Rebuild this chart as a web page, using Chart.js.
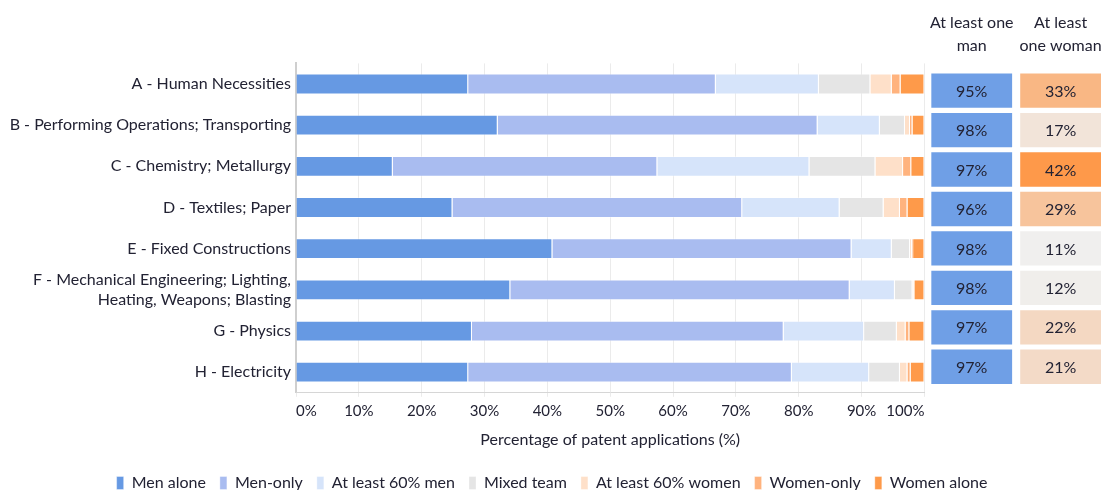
<!DOCTYPE html>
<html>
<head>
<meta charset="utf-8">
<script src="https://cdn.jsdelivr.net/npm/chart.js@4.4.1/dist/chart.umd.min.js"></script>
<style>
  body { margin: 0; background: #fff; }
  #wrap { width: 1106px; height: 490px; position: relative; }
</style>
</head>
<body>
<div id="wrap"><canvas id="myChart"></canvas></div>
<script>
const categories = [
  "A - Human Necessities",
  "B - Performing Operations; Transporting",
  "C - Chemistry; Metallurgy",
  "D - Textiles; Paper",
  "E - Fixed Constructions",
  ["F - Mechanical Engineering; Lighting,", "Heating, Weapons; Blasting"],
  "G - Physics",
  "H - Electricity",
];

const seriesNames = ["Men alone", "Men-only", "At least 60% men", "Mixed team", "At least 60% women", "Women-only", "Women alone"];

const menAlone = [27.4, 32.1, 15.4, 24.9, 40.8, 34.1, 28.0, 27.4];
const menOnly = [39.4, 50.9, 42.1, 46.1, 47.6, 54.0, 49.6, 51.5];
const atLeast60Men = [16.4, 9.9, 24.2, 15.5, 6.4, 7.2, 12.8, 12.3];
const mixedTeam = [8.2, 4.0, 10.5, 7.0, 2.9, 2.8, 5.2, 4.9];
const atLeast60Women = [3.4, 0.8, 4.4, 2.6, 0.3, 0.2, 1.4, 1.2];
const womenOnly = [1.4, 0.4, 1.3, 1.2, 0.2, 0.1, 0.6, 0.5];
const womenAlone = [3.8, 1.9, 2.1, 2.7, 1.8, 1.6, 2.4, 2.2];

const atLeastOneMan = [95, 98, 97, 96, 98, 98, 97, 97];
const atLeastOneWoman = [33, 17, 42, 29, 11, 12, 22, 21];
const headerLabels = [["At least one", "man"], ["At least", "one woman"]];

const xTicks = [0, 10, 20, 30, 40, 50, 60, 70, 80, 90, 100];

const seriesValues = [menAlone, menOnly, atLeast60Men, mixedTeam, atLeast60Women, womenOnly, womenAlone];
const seriesColors = ["#6699e3", "#a9bcf0", "#d6e4fa", "#e5e5e5", "#fee0c9", "#ffb37e", "#fe9a4a"];

const textColor = "#222233";
const fontFamily = "Lato, 'Open Sans', sans-serif";

// colour scale for the "at least one woman" column
function womanColor(v) {
  let t = Math.max(0, Math.min(1, (v - 10) / 32));
  t = Math.pow(t, 1.3);
  const a = [240, 240, 240], b = [254, 153, 74];
  const c = a.map((x, i) => Math.round(x + (b[i] - x) * t));
  return "rgb(" + c.join(",") + ")";
}

const barDatasets = seriesNames.map((name, i) => ({
  label: name,
  data: seriesValues[i],
  backgroundColor: seriesColors[i],
  borderColor: "rgba(255,255,255,0.35)",
  borderWidth: 1,
  xAxisID: "x",
  yAxisID: "y",
  grouped: false,
  categoryPercentage: 1,
  barPercentage: 0.505,
}));

// table columns: column k sits on [k*1.1, k*1.1+1] of the xh axis
const cellDatasets = [atLeastOneMan, atLeastOneWoman].map((vals, k) => ({
  label: "cell" + k,
  data: vals.map((v, i) => ({ x: [k * 1.1, k * 1.1 + 1], y: i })),
  backgroundColor: k === 0 ? vals.map(() => "#6f9fe6") : vals.map(womanColor),
  borderWidth: 0,
  xAxisID: "xh",
  yAxisID: "y2",
  grouped: false,
  categoryPercentage: 1,
  barPercentage: 0.87,
  cellValues: vals,
}));

const cellText = {
  id: "cellText",
  afterDatasetsDraw(chart) {
    const ctx = chart.ctx;
    ctx.save();
    ctx.font = "16px " + fontFamily;
    ctx.fillStyle = textColor;
    ctx.textAlign = "center";
    ctx.textBaseline = "middle";
    chart.data.datasets.forEach((ds, di) => {
      if (!ds.cellValues) return;
      chart.getDatasetMeta(di).data.forEach((el, i) => {
        ctx.fillText(ds.cellValues[i] + "%", (el.x + el.base) / 2, el.y + 1);
      });
    });
    ctx.restore();
  },
};

const config = {
  type: "bar",
  data: {
    labels: categories,
    datasets: barDatasets.concat(cellDatasets),
  },
  plugins: [cellText],
  options: {
    indexAxis: "y",
    responsive: true,
    maintainAspectRatio: false,
    animation: false,
    layout: {
      padding: { top: 5, right: 2, left: 0, bottom: -11 },
    },
    scales: {
      y: {
        type: "category",
        stacked: true,
        grid: { display: false, drawTicks: false },
        border: { display: true, color: "#cfcfcf", width: 2 },
        ticks: {
          autoSkip: false,
          color: textColor,
          padding: 5,
          font: { size: 16, family: fontFamily },
        },
        afterFit: (scale) => { scale.width = 296; },
      },
      x: {
        type: "linear",
        position: "bottom",
        stack: "bottom",
        stackWeight: 630,
        stacked: true,
        min: 0,
        max: 100,
        afterBuildTicks: (scale) => { scale.ticks = xTicks.map((v) => ({ value: v })); },
        grid: { color: "#ebebeb", tickLength: 4 },
        border: { display: true, color: "#d6d6d6" },
        ticks: {
          autoSkip: false,
          maxRotation: 0,
          minRotation: 0,
          align: "inner",
          color: textColor,
          padding: 5,
          font: { size: 15, family: fontFamily },
          callback: (v) => v + "%",
        },
        title: {
          display: true,
          text: "Percentage of patent applications (%)",
          color: textColor,
          padding: { top: 5, bottom: 12 },
          font: { size: 16, family: fontFamily },
        },
      },
      xt: {
        type: "linear",
        position: "bottom",
        stack: "bottom",
        stackWeight: 177,
        grid: { display: false, drawTicks: false },
        border: { display: false },
        ticks: { display: false },
      },
      xh: {
        type: "linear",
        position: "top",
        min: 2.1 - 807 / 81,
        max: 2.1,
        afterBuildTicks: (scale) => { scale.ticks = [{ value: 0.5 }, { value: 1.6 }]; },
        afterFit: (scale) => { scale.paddingLeft = 0; scale.paddingRight = 0; },
        grid: { display: false, drawTicks: false },
        border: { display: false },
        ticks: {
          autoSkip: false,
          maxRotation: 0,
          color: textColor,
          padding: 6,
          font: { size: 16, family: fontFamily, lineHeight: 1.45 },
          callback: (v, i) => headerLabels[i],
        },
      },
      y2: {
        type: "linear",
        display: false,
        reverse: true,
        offset: false,
        min: -0.69,
        max: 7.66,
        afterBuildTicks: (scale) => { scale.ticks = categories.map((c, i) => ({ value: i })); },
      },
    },
    plugins: {
      legend: {
        position: "bottom",
        labels: {
          filter: (item) => item.datasetIndex < seriesNames.length,
          boxWidth: 7,
          boxHeight: 13,
          padding: 14,
          color: textColor,
          font: { size: 16, family: fontFamily },
        },
      },
      tooltip: { enabled: false },
    },
  },
};

new Chart(document.getElementById("myChart"), config);
</script>
</body>
</html>
